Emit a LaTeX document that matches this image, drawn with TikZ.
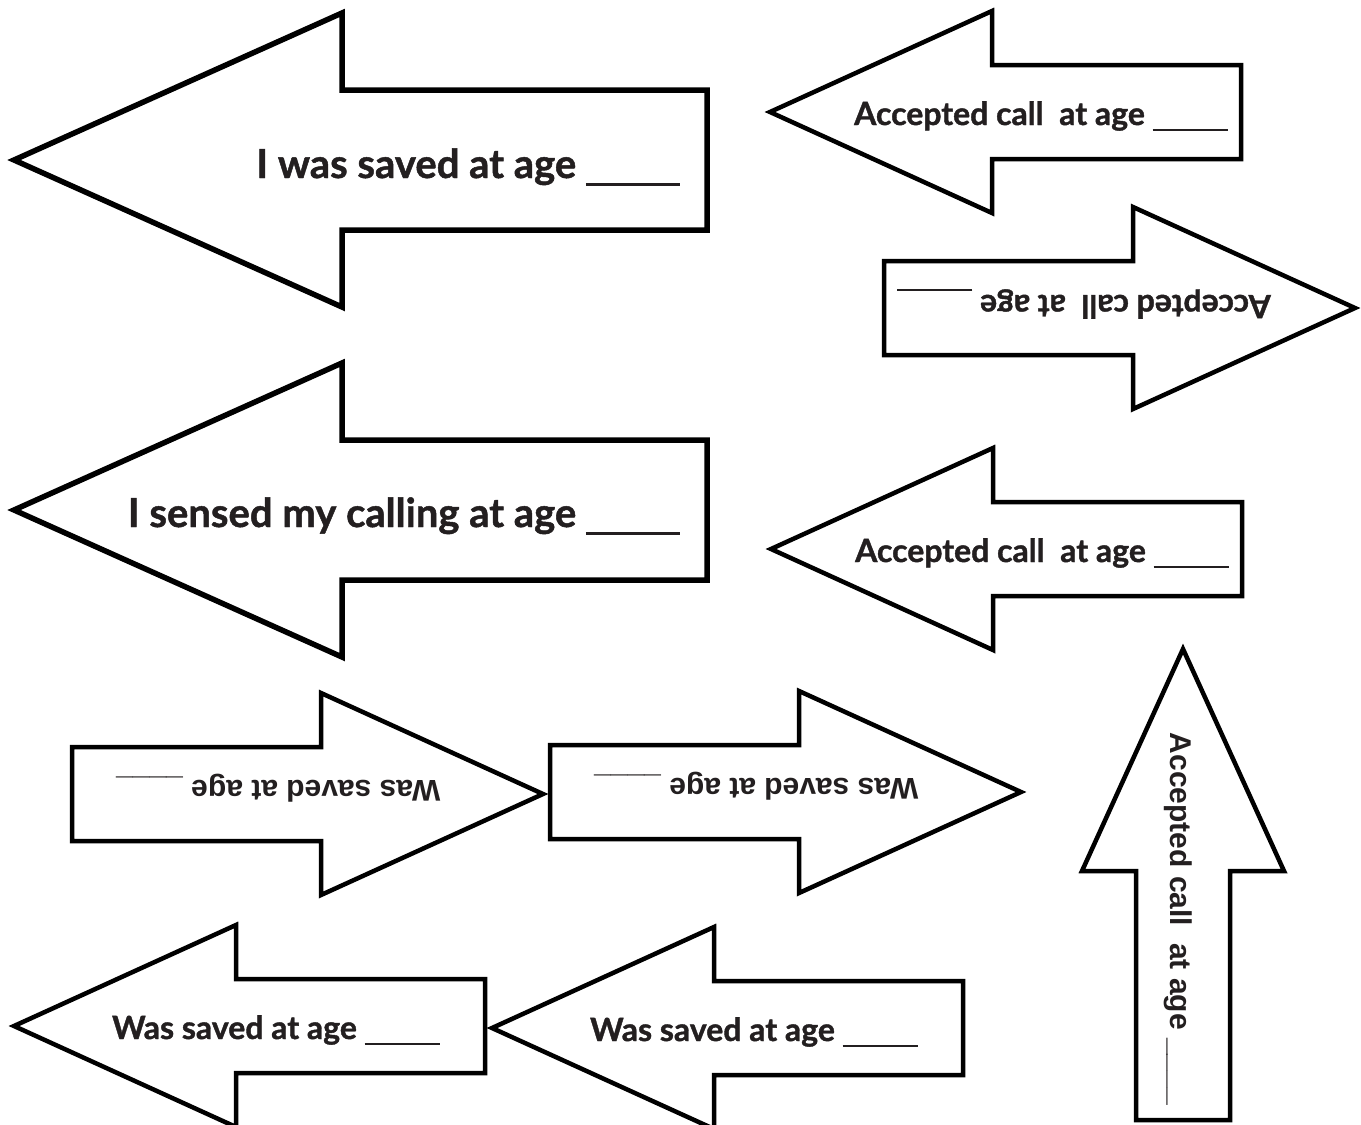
\documentclass[tikz,border=0pt]{standalone}
\usepackage{fontspec}
\newfontfamily\latofont{Lato}[BoldFeatures={FakeBold=1.2}]
\newfontfamily\arialfont{Liberation Sans}
\definecolor{ink}{RGB}{35,31,32}

\tikzset{
	card/.style={draw=black,fill=white,line width=4.5pt,line join=miter},
	bigcard/.style={card,line width=5.5pt},
	latotext/.style={anchor=base east,inner sep=0pt,text=ink,font=\latofont\bfseries\fontsize{32}{38}\selectfont},
	biglatotext/.style={latotext,font=\latofont\bfseries\fontsize{40}{48}\selectfont},
	arialtext/.style={anchor=base east,inner sep=0pt,text=ink,font=\arialfont\bfseries\fontsize{30}{36}\selectfont}
}

% blank to fill in after the text
\newcommand{\agefill}{\rule[-0.2em]{2.35em}{0.07em}}

% outline of one card, tip at the local origin, pointing left
\newcommand{\smallcard}{\draw[card] (0,0) -- (222,-101) -- (222,-47) -- (471,-47) -- (471,47) -- (222,47) -- (222,101) -- cycle;}
\newcommand{\bigcard}{\draw[bigcard] (0,0) -- (328,-147) -- (328,-70) -- (693,-70) -- (693,70) -- (328,70) -- (328,147) -- cycle;}

\begin{document}
\begin{tikzpicture}[x=1pt,y=-1pt]
	\useasboundingbox (0,0) rectangle (1361,1125);

	% big cards
	\begin{scope}[shift={(14,160)}]
		\bigcard
		\node[biglatotext] (saved) at (666,18) {I was saved at age \agefill};
	\end{scope}
	\begin{scope}[shift={(14,510)}]
		\bigcard
		\node[biglatotext] (sensed) at (666,17) {I sensed my calling at age \agefill};
	\end{scope}

	% accepted call cards
	\begin{scope}[shift={(770,112)}]
		\smallcard
		\node[latotext] (acc1) at (458,13) {Accepted call\ \ at age \agefill};
	\end{scope}
	\begin{scope}[shift={(1355,308)},rotate=180,transform shape]
		\smallcard
		\node[latotext] (acc2) at (458,13) {Accepted call\ \ at age \agefill};
	\end{scope}
	\begin{scope}[shift={(771,549)}]
		\smallcard
		\node[latotext] (acc3) at (458,13) {Accepted call\ \ at age \agefill};
	\end{scope}
	\begin{scope}[shift={(1183,649)},rotate=-90,transform shape]
		\smallcard
		\node[arialtext] (acc4) at (456,13) {Accepted call\ \ at age \_\_\_\_};
	\end{scope}

	% was saved cards
	\begin{scope}[shift={(543,794)},rotate=180,transform shape]
		\smallcard
		\node[arialtext] (was1) at (427,14) {Was saved at age \_\_\_\_};
	\end{scope}
	\begin{scope}[shift={(1021,792)},rotate=180,transform shape]
		\smallcard
		\node[arialtext] (was2) at (427,14) {Was saved at age \_\_\_\_};
	\end{scope}
	\begin{scope}[shift={(14,1026)}]
		\smallcard
		\node[latotext] (was3) at (426,13) {Was saved at age \agefill};
	\end{scope}
	\begin{scope}[shift={(492,1028)}]
		\smallcard
		\node[latotext] (was4) at (426,13) {Was saved at age \agefill};
	\end{scope}
\end{tikzpicture}
\end{document}
